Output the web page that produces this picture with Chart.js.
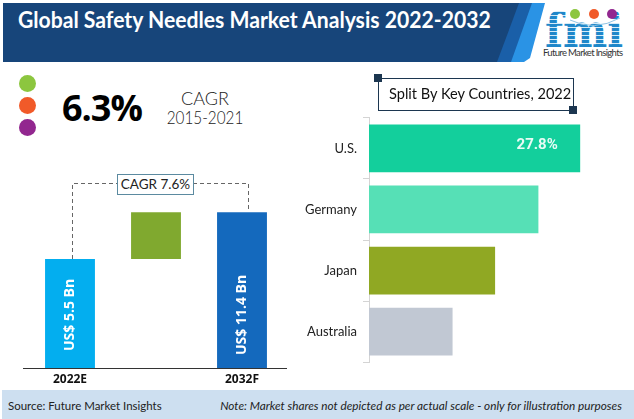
<!DOCTYPE html>
<html>
<head>
<meta charset="utf-8">
<title>Global Safety Needles Market Analysis 2022-2032</title>
<script src="https://cdn.jsdelivr.net/npm/chart.js@4"></script>
<style>
  body { margin: 0; background: #fff; width: 634px; height: 419px; overflow: hidden; position: relative; font-family: Lato, sans-serif; }
  .abs { position: absolute; }
  canvas { position: absolute; }
  .title { left: 18px; top: 5px; color: #fff; font-weight: 700; font-size: 23.5px; white-space: nowrap; transform: scaleX(0.9); transform-origin: left; }
  .dot { width: 17px; height: 17px; border-radius: 50%; left: 19px; }
  .big { left: 62px; top: 83px; font-size: 36px; font-weight: 700; color: #000; font-family: "Open Sans", sans-serif; letter-spacing: -1px; }
  .cagr { left: 155px; width: 100px; text-align: center; font-size: 18px; color: #222; font-weight: 300; }
  .split { left: 378px; top: 78px; width: 194px; height: 31px; border: 1px solid #1c3650; }
  .splitText { left: 389px; top: 84px; font-size: 15.5px; color: #111; white-space: nowrap; transform: scaleX(0.94); transform-origin: left; }
  .handle { width: 8px; height: 8px; background: #1c3650; }
  .cagrBox { left: 117px; top: 174px; width: 75px; height: 19px; border: 1px solid #5b8aa0; background: #fff; text-align: center; line-height: 19px; font-size: 13.5px; color: #222; }
  .footer { left: 2px; top: 390px; width: 632px; height: 29px; background: #cddff0; }
  .source { left: 8px; top: 398px; font-size: 12px; color: #222; transform: scaleX(0.956); transform-origin: left; }
  .note { right: 12px; top: 398px; font-size: 12px; font-style: italic; color: #222; white-space: nowrap; transform: scaleX(0.98); transform-origin: right; }
</style>
</head>
<body>

<!-- 顶部横幅 -->
<svg class="abs" style="left:0;top:0" width="634" height="70">
  <polygon points="545,3 530,3 508,62 524,62 530,58" fill="#2a93e5"/>
  <polygon points="532,3 516,3 495,62 511,62" fill="#1a5fa8"/>
  <polygon points="3,3 519,3 497,62 3,62" fill="#17457a"/>
  <defs>
    <pattern id="stripes" width="4" height="4" patternUnits="userSpaceOnUse">
      <rect width="4" height="3" fill="#1f87c9"/>
      <rect y="3" width="4" height="1" fill="#d5ebf7"/>
    </pattern>
  </defs>
  <text x="545" y="47" font-family="'DejaVu Serif'" font-weight="700" font-size="47" textLength="78" lengthAdjust="spacingAndGlyphs" fill="url(#stripes)">fmi</text>
  <path d="M570 20 Q594 32 620 18" fill="none" stroke="#8fc4e4" stroke-width="1"/>
  <circle cx="575" cy="14" r="5" fill="#8cc63f"/>
  <circle cx="594" cy="14" r="5" fill="#f15a29"/>
  <circle cx="612" cy="14" r="5" fill="#92278f"/>
  <text x="543" y="56" font-family="Lato" font-size="9.5" textLength="80" fill="#333">Future Market Insights</text>
</svg>
<div class="abs title">Global Safety Needles Market Analysis 2022-2032</div>

<!-- 左上 CAGR -->
<div class="abs dot" style="top:75px;background:#8cc63f"></div>
<div class="abs dot" style="top:97px;background:#f15a29"></div>
<div class="abs dot" style="top:119px;background:#92278f"></div>
<div class="abs big">6.3%</div>
<div class="abs cagr" style="top:87px">CAGR</div>
<div class="abs cagr" style="top:106px;transform:scaleX(0.85)">2015-2021</div>

<canvas id="marketChart"></canvas>
<canvas id="countryChart"></canvas>

<!-- CAGR 虚线 -->
<svg class="abs" style="left:0;top:160px" width="300" height="110">
  <path d="M72.5 99V23.5H248.5V52" fill="none" stroke="#666" stroke-width="1" stroke-dasharray="4 3"/>
</svg>
<div class="abs cagrBox">CAGR 7.6%</div>

<div class="abs split"></div>
<div class="abs splitText">Split By Key Countries, 2022</div>
<div class="abs handle" style="left:374px;top:74px"></div>
<div class="abs handle" style="left:569px;top:106px"></div>

<div class="abs footer"></div>
<div class="abs source">Source: Future Market Insights</div>
<div class="abs note">Note: Market shares not depicted as per actual scale - only for illustration purposes</div>

<script>
// 市场规模（图上不按比例绘制，barEnd 为读图得到的绘制高度）
const years = ['2022E', '', '2032F'];
const barStart = [0, 5.5, 0];
const barEnd = [5.5, 7.87, 7.87];
const barLabels = ['US$ 5.5 Bn', '', 'US$ 11.4 Bn'];
const barColors = ['#03aeef', '#80a92f', '#1469bd'];

// 主要国家份额
const countries = ['U.S.', 'Germany', 'Japan', 'Australia'];
const countryShares = [27.8, 22.3, 16.6, 11.0];
const shareLabels = ['27.8%', '', '', ''];
const countryColors = ['#13cf9c', '#56e0b6', '#90a823', '#c1c8d3'];

// 柱内竖排文字
const verticalLabelPlugin = {
  id: 'verticalLabels',
  afterDatasetsDraw(chart) {
    const ctx = chart.ctx;
    const yCenter = chart.scales.y.getPixelForValue(2.68);
    chart.getDatasetMeta(0).data.forEach((bar, i) => {
      if (!barLabels[i]) return;
      ctx.save();
      ctx.translate(bar.x, yCenter);
      ctx.rotate(-Math.PI / 2);
      ctx.fillStyle = '#fff';
      ctx.font = '700 14px "Open Sans"';
      ctx.textAlign = 'center';
      ctx.textBaseline = 'middle';
      ctx.fillText(barLabels[i], 0, 0);
      ctx.restore();
    });
  }
};

// 底部基线略长于坐标区
const baselinePlugin = {
  id: 'baseline',
  afterDraw(chart) {
    const { ctx, chartArea } = chart;
    ctx.save();
    ctx.strokeStyle = '#333';
    ctx.lineWidth = 1;
    ctx.beginPath();
    ctx.moveTo(chartArea.left - 4, chartArea.bottom + 0.5);
    ctx.lineTo(chartArea.right + 2, chartArea.bottom + 0.5);
    ctx.stroke();
    ctx.restore();
  }
};

// 柱内份额文字
const shareLabelPlugin = {
  id: 'shareLabels',
  afterDatasetsDraw(chart) {
    const ctx = chart.ctx;
    chart.getDatasetMeta(0).data.forEach((bar, i) => {
      if (!shareLabels[i]) return;
      ctx.save();
      ctx.fillStyle = '#e8fbf5';
      ctx.font = '700 15px Roboto';
      ctx.textAlign = 'center';
      ctx.textBaseline = 'middle';
      ctx.fillText(shareLabels[i], bar.x - 43, bar.y - 3);
      ctx.restore();
    });
  }
};

function placeCanvas(id, left, top, width, height) {
  const canvas = document.getElementById(id);
  canvas.style.left = left + 'px';
  canvas.style.top = top + 'px';
  canvas.width = width;
  canvas.height = height;
  return canvas;
}

new Chart(placeCanvas('marketChart', 0, 170, 300, 220), {
  type: 'bar',
  data: {
    labels: years,
    datasets: [{
      data: barStart.map((start, i) => [start, barEnd[i]]),
      backgroundColor: barColors,
      borderWidth: 0,
      barPercentage: 0.58,
      categoryPercentage: 1
    }]
  },
  options: {
    responsive: false,
    animation: false,
    layout: { padding: { left: 27, right: 15, top: 2, bottom: 0 } },
    plugins: { legend: { display: false }, tooltip: { enabled: false } },
    scales: {
      x: {
        grid: { display: false, drawTicks: false },
        border: { display: false },
        afterFit: scale => { scale.height = 22; },
        ticks: { color: '#111', font: { family: 'Open Sans', weight: '700', size: 12 }, padding: 4, maxRotation: 0 }
      },
      y: { display: false, min: 0, max: 9.9 }
    }
  },
  plugins: [verticalLabelPlugin, baselinePlugin]
});

new Chart(placeCanvas('countryChart', 300, 104, 325, 272), {
  type: 'bar',
  data: {
    labels: countries,
    datasets: [{
      data: countryShares,
      backgroundColor: countryColors,
      borderWidth: 0,
      barPercentage: 0.78,
      categoryPercentage: 1
    }]
  },
  options: {
    indexAxis: 'y',
    responsive: false,
    animation: false,
    layout: { padding: { top: 2, bottom: 0, left: 0, right: 0 } },
    plugins: { legend: { display: false }, tooltip: { enabled: false } },
    scales: {
      x: { display: false, min: 0, max: 33.7 },
      y: {
        afterFit: scale => { scale.width = 69; },
        grid: { color: '#d4d4d4', drawOnChartArea: false, tickLength: 6 },
        border: { color: '#d4d4d4' },
        ticks: { color: '#222', font: { family: 'Lato', size: 13 }, padding: 6 }
      }
    }
  },
  plugins: [shareLabelPlugin]
});
</script>
</body>
</html>
